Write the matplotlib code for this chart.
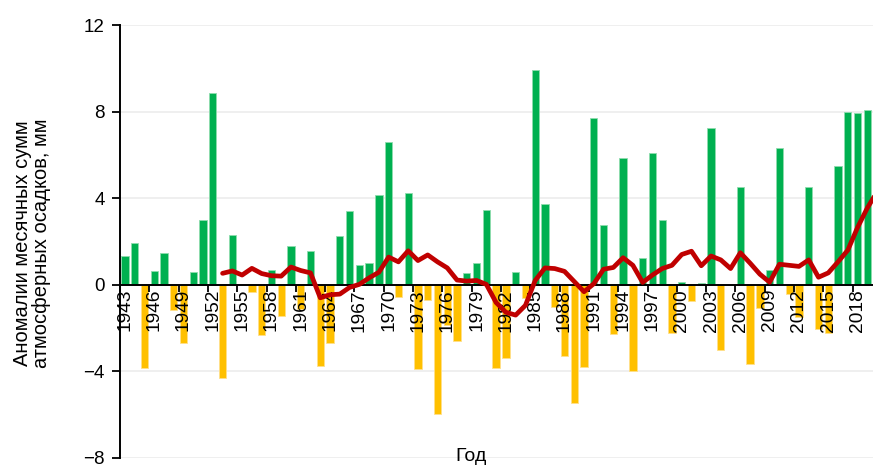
import numpy as np
import matplotlib
matplotlib.use("Agg")
from matplotlib import pyplot as plt

plt.rcParams["font.family"] = ["Liberation Sans", "DejaVu Sans"]

# annual anomalies of monthly precipitation sums, mm
years = list(range(1943, 2021))
anomaly = [
    1.31, 1.91, -3.84, 0.64, 1.47, -1.16, -2.69, 0.61, 3.01, 8.87,   # 1943-1952
    -4.31, 2.28, 0.0, -0.32, -2.33, 0.67, -1.42, 1.77, -1.10, 1.54,  # 1953-1962
    -3.74, -2.69, 2.25, 3.43, 0.90, 0.99, 4.16, 6.61, -0.58, 4.22,   # 1963-1972
    -3.90, -0.70, -5.98, -1.85, -2.59, 0.54, 1.02, 3.46, -3.84, -3.36,  # 1973-1982
    0.61, -0.61, 9.91, 3.73, -1.01, -3.27, -5.47, -3.79, 7.71, 2.76,  # 1983-1992
    -2.28, 5.84, -3.99, 1.22, 6.07, 3.00, -2.23, 0.13, -0.73, 0.07,  # 1993-2002
    7.25, -3.03, 0.0, 4.50, -3.67, -1.06, 0.67, 6.30, -0.44, -1.50,  # 2003-2012
    4.54, -2.05, -2.23, 5.50, 7.98, 7.92, 8.07, 10.9,                # 2013-2020
]

# smoothed anomaly curve, 1953 onwards
trend_start = 1953
trend = [
    0.53, 0.64, 0.45, 0.76, 0.52, 0.42, 0.40, 0.82, 0.66, 0.55,      # 1953-1962
    -0.60, -0.46, -0.43, -0.12, 0.02, 0.32, 0.58, 1.28, 1.06, 1.57,  # 1963-1972
    1.12, 1.38, 1.06, 0.78, 0.22, 0.17, 0.20, 0.02, -0.82, -1.27,    # 1973-1982
    -1.40, -0.95, 0.20, 0.78, 0.75, 0.62, 0.15, -0.32, 0.05, 0.72,   # 1983-1992
    0.80, 1.25, 0.90, 0.11, 0.45, 0.75, 0.90, 1.40, 1.55, 0.88,      # 1993-2002
    1.33, 1.15, 0.75, 1.48, 1.00, 0.49, 0.12, 0.95, 0.90, 0.85,      # 2003-2012
    1.15, 0.35, 0.55, 1.06, 1.60, 2.65, 3.55, 4.30,                  # 2013-2020
]
trend_years = list(range(trend_start, trend_start + len(trend)))

label_years = years[::3]
y_ticks = [-8, -4, 0, 4, 8, 12]

fig = plt.figure(figsize=(8.73, 4.66), dpi=100)
# plot area runs slightly past the right edge of the figure
ax = fig.add_axes([120 / 873, 8 / 466, 762 / 873, 433 / 466])

# light horizontal grid, kept under the bars
for t in y_ticks:
    if t != 0:
        ax.axhline(t, color="#eeeeee", lw=1.3, zorder=0.5)

x = np.array(years)
vals = np.array(anomaly)
pos = vals >= 0
ax.bar(x[pos], vals[pos], width=0.75, color="#00B050", edgecolor="#8fdcae", linewidth=0.6, zorder=1)
ax.bar(x[~pos], vals[~pos], width=0.75, color="#FFC000", edgecolor="#ffe08a", linewidth=0.6, zorder=1)

ax.plot(trend_years, trend, color="#C00000", lw=3.4, solid_joinstyle="round",
        solid_capstyle="round", zorder=4)

ax.set_xlim(1942.5, 2020.5)
ax.set_ylim(-8, 12)
ax.set_yticks(y_ticks)

for s in ["top", "right"]:
    ax.spines[s].set_visible(False)
ax.spines["bottom"].set_position(("data", 0))
for s in ["bottom", "left"]:
    ax.spines[s].set_linewidth(1.4)
    ax.spines[s].set_color("black")

ax.set_xticks(label_years)
ax.set_xticklabels([str(y) for y in label_years], rotation=90, fontsize=13.8)
ax.set_xticks([y - 0.5 for y in label_years], minor=True)
ax.tick_params(axis="x", which="major", length=0, pad=3)
ax.tick_params(axis="x", which="minor", length=5, width=1.3, direction="out")
ax.tick_params(axis="y", length=6, width=1.3, direction="out", labelsize=13.5, pad=5)

fig.text(32 / 873, 223 / 466, "Аномалии месячных сумм\nатмосферных осадков, мм",
         rotation=90, ha="center", va="center", fontsize=14.5, linespacing=0.95)
fig.text(471 / 873, 5 / 466, "Год", ha="center", va="baseline", fontsize=14)

fig.savefig("out.png", dpi=100)
